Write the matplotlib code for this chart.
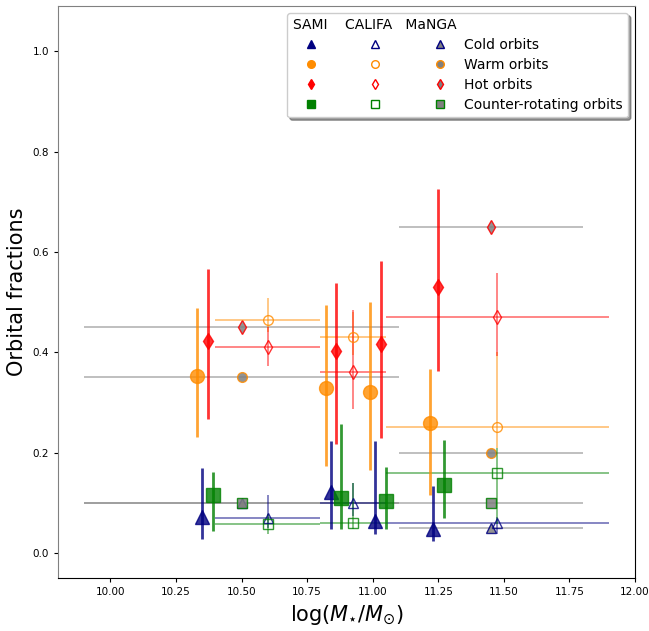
import numpy as np
import matplotlib
matplotlib.use("Agg")
import matplotlib.pyplot as plt
from matplotlib.lines import Line2D

# ---------------- SAMI (per mass bin, with 1-sigma ranges) ----------------
sami_x_cold = [10.35, 10.84, 11.01, 11.23]
sami_cold = [0.072, 0.122, 0.064, 0.049]
sami_cold_lo = [0.029, 0.049, 0.039, 0.025]
sami_cold_hi = [0.169, 0.224, 0.224, 0.133]

sami_x_warm = [10.33, 10.82, 10.99, 11.22]
sami_warm = [0.352, 0.330, 0.322, 0.259]
sami_warm_lo = [0.231, 0.173, 0.165, 0.115]
sami_warm_hi = [0.489, 0.495, 0.500, 0.367]

sami_x_hot = [10.37, 10.86, 11.03, 11.25]
sami_hot = [0.422, 0.402, 0.417, 0.530]
sami_hot_lo = [0.267, 0.217, 0.229, 0.362]
sami_hot_hi = [0.567, 0.539, 0.583, 0.725]

sami_x_cr = [10.39, 10.88, 11.05, 11.27]
sami_cr = [0.115, 0.109, 0.104, 0.135]
sami_cr_lo = [0.045, 0.049, 0.049, 0.071]
sami_cr_hi = [0.161, 0.257, 0.172, 0.225]

# ---------------- CALIFA (mass bins with edges) ----------------
califa_x = [10.60, 10.925, 11.475]
califa_x_lo = [10.40, 10.80, 11.05]
califa_x_hi = [10.80, 11.05, 11.90]

califa_cold = [0.070, 0.100, 0.060]
califa_cold_lo = [0.051, 0.075, 0.039]
califa_cold_hi = [0.115, 0.139, 0.072]

califa_warm = [0.465, 0.430, 0.251]
califa_warm_lo = [0.440, 0.395, 0.210]
califa_warm_hi = [0.509, 0.480, 0.401]

califa_hot = [0.410, 0.360, 0.471]
califa_hot_lo = [0.373, 0.287, 0.392]
califa_hot_hi = [0.451, 0.485, 0.559]

califa_cr = [0.059, 0.060, 0.160]
califa_cr_lo = [0.039, 0.049, 0.059]
califa_cr_hi = [0.079, 0.139, 0.209]

# ---------------- MaNGA (two mass bins) ----------------
manga_x = [10.50, 11.45]
manga_x_lo = [9.90, 11.10]
manga_x_hi = [11.10, 11.80]
manga_cold = [0.10, 0.05]
manga_warm = [0.35, 0.20]
manga_hot = [0.45, 0.65]
manga_cr = [0.10, 0.10]

legend_labels = ["Cold orbits", "Warm orbits", "Hot orbits", "Counter-rotating orbits"]
survey_title = "SAMI    CALIFA   MaNGA"

colors = ["navy", "darkorange", "red", "green"]
markers = ["^", "o", "d", "s"]

fig = plt.figure(figsize=(6.49, 6.31), dpi=100)
ax = fig.add_axes([0.0894, 0.0835, 0.889, 0.907])


def asym(y, lo, hi):
    y = np.asarray(y)
    return [y - np.asarray(lo), np.asarray(hi) - y]


# MaNGA: grey-filled markers with bin-width bars
manga_sets = [manga_cold, manga_warm, manga_hot, manga_cr]
mx = np.asarray(manga_x)
for ys, c, m in zip(manga_sets, colors, markers):
    eb = ax.errorbar(mx, ys, xerr=[mx - np.asarray(manga_x_lo), np.asarray(manga_x_hi) - mx],
                     fmt=m, ms=7, mfc="gray", mec=c, mew=1.0, ecolor="gray",
                     elinewidth=1.4, capsize=0, zorder=2)
    eb[0].set_alpha(0.85)
    for lc in eb[2]:
        lc.set_alpha(0.5)

# CALIFA: open markers with bin-width bars
califa_sets = [(califa_cold, califa_cold_lo, califa_cold_hi),
               (califa_warm, califa_warm_lo, califa_warm_hi),
               (califa_hot, califa_hot_lo, califa_hot_hi),
               (califa_cr, califa_cr_lo, califa_cr_hi)]
cx = np.asarray(califa_x)
for (ys, lo, hi), c, m in zip(califa_sets, colors, markers):
    eb = ax.errorbar(cx, ys, xerr=[cx - np.asarray(califa_x_lo), np.asarray(califa_x_hi) - cx],
                     yerr=asym(ys, lo, hi), fmt=m, ms=7, mfc="none", mec=c, mew=1.0,
                     ecolor=c, elinewidth=1.1, capsize=0, zorder=3)
    eb[0].set_alpha(0.8)
    for lc in eb[2]:
        lc.set_alpha(0.6)

# SAMI: large filled markers with thick vertical bars
sami_sets = [(sami_x_cold, sami_cold, sami_cold_lo, sami_cold_hi),
             (sami_x_warm, sami_warm, sami_warm_lo, sami_warm_hi),
             (sami_x_hot, sami_hot, sami_hot_lo, sami_hot_hi),
             (sami_x_cr, sami_cr, sami_cr_lo, sami_cr_hi)]
sizes = [10, 10, 8.5, 10]
for (xs, ys, lo, hi), c, m, s in zip(sami_sets, colors, markers, sizes):
    ax.errorbar(xs, ys, yerr=asym(ys, lo, hi), fmt=m, ms=s, color=c, mec=c,
                elinewidth=2.0, capsize=0, alpha=0.8, zorder=4)

ax.set_xlim(9.8, 12.0)
ax.set_ylim(-0.05, 1.09)
ax.set_xticks(np.arange(10.0, 12.01, 0.25))
ax.set_yticks(np.arange(0.0, 1.01, 0.2))
ax.xaxis.set_major_formatter(matplotlib.ticker.FormatStrFormatter("%.2f"))
ax.yaxis.set_major_formatter(matplotlib.ticker.FormatStrFormatter("%.1f"))
ax.tick_params(labelsize=7.5, length=3)
ax.spines["left"].set_color("gray")
ax.spines["top"].set_color("gray")

ax.set_xlabel(r"$\log(M_{\star}/M_{\odot})$", fontsize=15)
ax.set_ylabel("Orbital fractions", fontsize=15)

# Legend: one column per survey, labels on the last column
handles = []
for c, m in zip(colors, markers):
    handles.append(Line2D([], [], ls="none", marker=m, ms=5.5, color=c))
for c, m in zip(colors, markers):
    handles.append(Line2D([], [], ls="none", marker=m, ms=5.5, mfc="none", mec=c))
for c, m in zip(colors, markers):
    handles.append(Line2D([], [], ls="none", marker=m, ms=5.5, mfc="gray", mec=c))
labels = [""] * 8 + legend_labels
ax.legend(handles, labels, ncol=3, loc="upper right", fontsize=10,
          title=survey_title, title_fontsize=10, alignment="left",
          labelspacing=0.42, columnspacing=1.59, handlelength=2.6,
          handletextpad=0.45,
          shadow={"color": "0.35", "alpha": 0.6, "ox": 2, "oy": -2},
          framealpha=1.0)

fig.savefig("out.png", dpi=100)
